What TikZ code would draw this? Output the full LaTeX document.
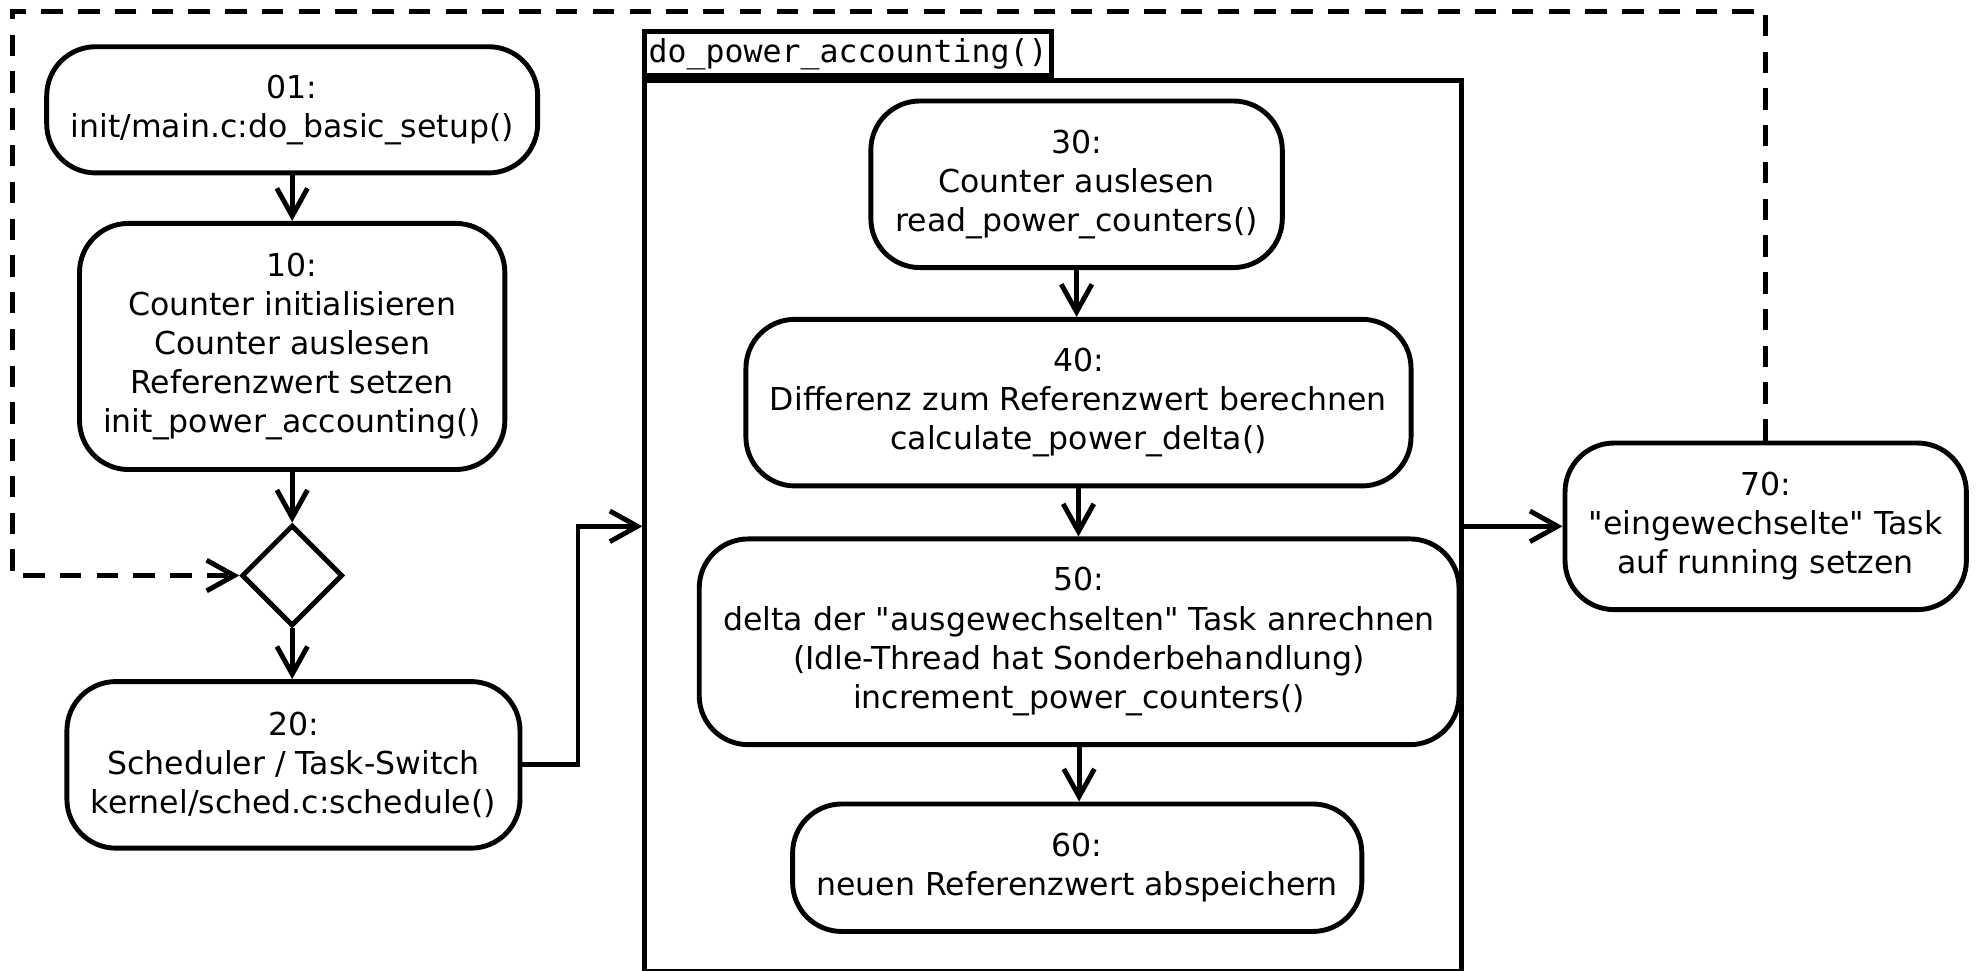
\documentclass[tikz,border=0pt]{standalone}
\usepackage{fontspec}
\setmainfont{DejaVu Sans}
\setmonofont{DejaVu Sans Mono}
\usetikzlibrary{arrows.meta}
\usetikzlibrary{shapes.geometric}
\newcommand{\pxu}{0.412pt}

\begin{document}
\begin{tikzpicture}[x=\pxu, y=-\pxu, line width=1.6pt,
    every node/.style={font=\fontsize{10.3}{12.8}\selectfont},
    actbox/.style={draw, rounded corners=16pt, align=center, inner sep=0pt},
    flow/.style={-{Straight Barb[length=9pt,width=10pt]}},
    loopline/.style={flow, dash pattern=on 7pt off 5pt}]
        \useasboundingbox (0,0) rectangle (1568,769);

        \node[actbox, minimum width=389*\pxu, minimum height=100*\pxu] (b01) at (231.5,87)
            {01:\\init/main.c:do\_basic\_setup()};
        \node[actbox, minimum width=337*\pxu, minimum height=195*\pxu] (b10) at (231.5,274.5)
            {10:\\Counter initialisieren\\Counter auslesen\\Referenzwert setzen\\init\_power\_accounting()};
        \node[draw, diamond, aspect=1, inner sep=0pt, minimum width=80*\pxu, minimum height=80*\pxu] (dec) at (231.5,456) {};
        \node[actbox, minimum width=359*\pxu, minimum height=132*\pxu] (b20) at (232.5,606)
            {20:\\Scheduler / Task-Switch\\kernel/sched.c:schedule()};

        \node[draw, inner sep=0pt, minimum width=647*\pxu, minimum height=706*\pxu] (pkg) at (834.5,417) {};
        \node[draw, inner sep=0pt, anchor=south west, minimum width=322*\pxu, minimum height=35*\pxu,
            font=\ttfamily\fontsize{10.3}{12}\selectfont] (tab) at (pkg.north west) {do\_power\_accounting()};

        \node[actbox, minimum width=326*\pxu, minimum height=132*\pxu] (b30) at (853,146)
            {30:\\Counter auslesen\\read\_power\_counters()};
        \node[actbox, minimum width=527*\pxu, minimum height=132*\pxu] (b40) at (854.5,319)
            {40:\\Differenz zum Referenzwert berechnen\\calculate\_power\_delta()};
        \node[actbox, minimum width=602*\pxu, minimum height=163*\pxu] (b50) at (855,508.5)
            {50:\\delta der \textquotedbl ausgewechselten\textquotedbl{} Task anrechnen\\(Idle-Thread hat Sonderbehandlung)\\increment\_power\_counters()};
        \node[actbox, minimum width=451*\pxu, minimum height=101*\pxu] (b60) at (853.5,687.5)
            {60:\\neuen Referenzwert abspeichern};

        \node[actbox, minimum width=318*\pxu, minimum height=132*\pxu] (b70) at (1399,417)
            {70:\\\textquotedbl eingewechselte\textquotedbl{} Task\\auf running setzen};

        \draw[flow] (b01.south) -- (b01.south |- b10.north);
        \draw[flow] (b10.south) -- (dec.north);
        \draw[flow] (dec.south) -- (dec.south |- b20.north);
        \draw[flow] (b20.east) -- ++(44,0) |- (pkg.west);
        \draw[flow] (b30.south) -- (b30.south |- b40.north);
        \draw[flow] (b40.south) -- (b40.south |- b50.north);
        \draw[flow] (b50.south) -- (b50.south |- b60.north);
        \draw[flow] (pkg.east) -- (b70.west);

        \coordinate (loop) at (10,9);
        \draw[loopline] (b70.north) |- (loop) |- (dec.west);
\end{tikzpicture}
\end{document}
